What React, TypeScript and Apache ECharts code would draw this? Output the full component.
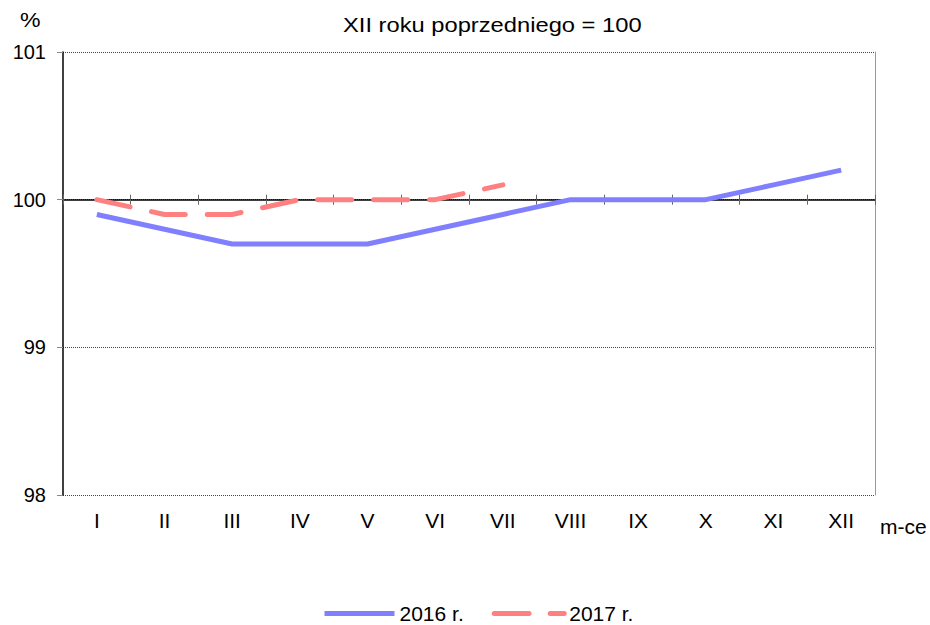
import React, { useEffect, useRef } from 'react';
import * as echarts from 'echarts';

const months = ['I', 'II', 'III', 'IV', 'V', 'VI', 'VII', 'VIII', 'IX', 'X', 'XI', 'XII'];
const values2016 = [99.9, 99.8, 99.7, 99.7, 99.7, 99.8, 99.9, 100.0, 100.0, 100.0, 100.1, 100.2];
const values2017 = [100.0, 99.9, 99.9, 100.0, 100.0, 100.0, 100.1];
const seriesNames = ['2016 r.', '2017 r.'];
const titleText = 'XII roku poprzedniego = 100';
const yUnit = '%';
const xUnit = 'm-ce';

export default function App() {
  const ref = useRef<HTMLDivElement>(null);
  useEffect(() => {
    document.body.style.margin = '0';
    const chart = echarts.init(ref.current as HTMLDivElement, null, { renderer: 'svg' });
    const font = '"Liberation Sans", Arial, sans-serif';
    const gridTop = 52;
    const gridBottom = 130;
    const gridH = 625 - gridTop - gridBottom;
    const axisOffset = -(gridH * 2) / 3;
    chart.setOption({
      animation: false,
      textStyle: { fontFamily: font, color: '#000' },
      grid: { left: 63, right: 55, top: gridTop, bottom: gridBottom, containLabel: false, outerBoundsMode: 'none' },
      xAxis: [
        {
          type: 'category', data: months, boundaryGap: true, position: 'bottom',
          axisLine: { show: false, onZero: false }, axisTick: { show: false },
          axisLabel: { fontSize: 21, color: '#000', margin: 15, fontFamily: font },
          splitLine: { show: false },
        },
        {
          type: 'category', data: months, boundaryGap: true, position: 'bottom', offset: axisOffset,
          axisLine: { show: true, onZero: false, lineStyle: { color: '#000', width: 1.5 } },
          axisTick: { show: true, length: 5, lineStyle: { color: '#666' } },
          axisLabel: { show: false }, splitLine: { show: false },
        },
        {
          type: 'category', data: months, boundaryGap: true, position: 'bottom', offset: axisOffset,
          axisLine: { show: false, onZero: false },
          axisTick: { show: true, inside: true, length: 5, lineStyle: { color: '#666' } },
          axisLabel: { show: false }, splitLine: { show: false },
        },
      ],
      yAxis: [
        {
          type: 'value', min: 98, max: 101, interval: 1, position: 'left',
          axisLine: { show: true, onZero: false, lineStyle: { color: '#000', width: 1.5 } },
          axisTick: { show: true, length: 6, lineStyle: { color: '#888' } },
          axisLabel: { fontSize: 20, color: '#000', margin: 17, fontFamily: font },
          splitLine: { show: true, lineStyle: { type: 'dotted', color: '#444', width: 1 } },
        },
        {
          type: 'value', min: 98, max: 101, interval: 1, position: 'right',
          axisLine: { show: true, onZero: false, lineStyle: { color: '#999', width: 1 } },
          axisTick: { show: false }, axisLabel: { show: false }, splitLine: { show: false },
        },
      ],
      legend: {
        left: 317, top: 598, padding: 5, itemWidth: 70, itemHeight: 6, itemGap: 28,
        textStyle: { fontSize: 21, color: '#000', fontFamily: font },
        lineStyle: { width: 5 },
        data: seriesNames,
      },
      graphic: [
        { type: 'text', x: 343, y: 25, scaleX: 1.13, style: { text: titleText, font: `21px ${font}`, fill: '#000', textAlign: 'left', textVerticalAlign: 'middle' } },
        { type: 'text', x: 20, y: 20, scaleX: 1.1, style: { text: yUnit, font: `21px ${font}`, fill: '#000', textAlign: 'left', textVerticalAlign: 'middle' } },
        { type: 'text', x: 880, y: 526, style: { text: xUnit, font: `21px ${font}`, fill: '#000', textAlign: 'left', textVerticalAlign: 'middle' } },
      ],
      series: [
        {
          name: seriesNames[0], type: 'line', data: values2016, xAxisIndex: 0, yAxisIndex: 0,
          symbol: 'none', showSymbol: false, z: 3,
          lineStyle: { color: '#8080FF', width: 5 }, itemStyle: { color: '#8080FF' },
        },
        {
          name: seriesNames[1], type: 'line', data: values2017, xAxisIndex: 0, yAxisIndex: 0,
          symbol: 'none', showSymbol: false, z: 4,
          lineStyle: { color: '#FF8080', width: 5, type: [34, 22], cap: 'round' }, itemStyle: { color: '#FF8080' },
        },
      ],
    });
    return () => chart.dispose();
  }, []);
  return <div ref={ref} style={{ width: 930, height: 625 }} />;
}
